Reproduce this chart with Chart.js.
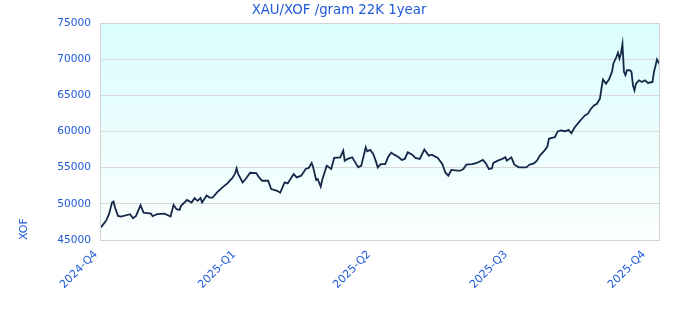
<!DOCTYPE html>
<html>
<head>
<meta charset="utf-8">
<script src="https://cdn.jsdelivr.net/npm/chart.js@4"></script>
<style>
  html, body { margin: 0; padding: 0; background: #fff; }
  #wrap { width: 680px; height: 320px; }
</style>
</head>
<body>
<div id="wrap"><canvas id="myChart" width="680" height="320"></canvas></div>
<script>
// days since 2024-10-01, and XAU/XOF per gram 22K
const days = [0, 1, 4, 6, 8, 9, 10, 12, 14, 20, 22, 24, 27, 29, 34, 35, 38, 43, 47, 49, 51, 53, 54, 58, 61, 63, 65, 67, 68, 71, 73, 75, 78, 81, 85, 87, 88, 90, 91, 92, 95, 97, 100, 104, 106, 108, 112, 114, 118, 120, 123, 125, 129, 131, 134, 137, 139, 141, 142, 144, 145, 147, 148, 151, 154, 156, 160, 162, 163, 165, 168, 172, 174, 177, 178, 180, 182, 184, 185, 187, 190, 192, 194, 196, 199, 201, 203, 205, 208, 210, 213, 216, 219, 221, 225, 228, 230, 232, 234, 238, 240, 242, 244, 248, 251, 255, 257, 259, 261, 262, 265, 268, 270, 271, 274, 276, 279, 284, 286, 289, 291, 293, 296, 298, 299, 301, 303, 304, 305, 307, 310, 312, 314, 316, 319, 321, 323, 325, 327, 329, 331, 333, 334, 335, 337, 339, 341, 342, 344, 345, 346, 347, 348, 349, 350, 351, 353, 354, 355, 356, 357, 359, 361, 363, 365, 368, 369, 371, 373];
const prices = [46900, 46844, 47640, 48570, 50180, 50320, 49490, 48330, 48240, 48570, 48010, 48330, 49820, 48790, 48650, 48290, 48570, 48650, 48240, 49860, 49260, 49160, 49720, 50550, 50180, 50790, 50410, 50790, 50180, 51150, 50870, 50870, 51570, 52180, 52870, 53330, 53510, 54210, 54900, 54120, 52960, 53430, 54300, 54260, 53650, 53190, 53190, 52040, 51800, 51530, 52960, 52820, 54120, 53650, 53890, 54820, 54960, 55650, 55040, 53290, 53430, 52360, 53290, 55280, 54820, 56350, 56430, 57360, 55960, 56210, 56430, 55040, 55280, 57820, 57260, 57460, 56900, 55730, 55040, 55500, 55500, 56530, 57080, 56800, 56430, 56070, 56210, 57120, 56800, 56350, 56210, 57500, 56660, 56800, 56350, 55500, 54340, 53890, 54680, 54580, 54580, 54820, 55410, 55500, 55650, 56070, 55600, 54820, 54900, 55650, 55970, 56210, 56430, 55970, 56430, 55410, 55040, 55040, 55410, 55600, 55970, 56660, 57360, 57920, 58990, 59120, 59210, 59680, 60040, 60140, 60040, 60230, 59760, 60510, 61290, 61760, 62220, 62460, 63150, 63610, 63840, 64540, 65930, 67180, 66620, 67180, 68240, 69400, 70330, 70880, 70100, 70790, 72080, 68240, 67780, 68470, 68470, 68240, 66390, 65690, 66620, 67080, 66850, 67080, 66710, 66850, 68240, 69960, 69170];

const tickDays = [0, 92, 182, 273, 365];
const tickLabels = ['2024-Q4', '2025-Q1', '2025-Q2', '2025-Q3', '2025-Q4'];
const titleText = 'XAU/XOF /gram 22K 1year';

const blue = '#1f5ad8';

const plotBox = {
    id: 'plotBox',
    beforeDraw(chart) {
        const a = chart.chartArea;
        const c = chart.ctx;
        const g = c.createLinearGradient(0, a.top, 0, a.bottom);
        g.addColorStop(0, '#dafdfe');
        g.addColorStop(1, '#fbfefe');
        c.save();
        c.fillStyle = g;
        c.fillRect(a.left, a.top, a.right - a.left, a.bottom - a.top);
        c.restore();
    },
    afterDraw(chart) {
        const a = chart.chartArea;
        const c = chart.ctx;
        c.save();
        c.strokeStyle = '#d4d4d4';
        c.lineWidth = 1;
        c.strokeRect(a.left + 0.5, a.top + 0.5, a.right - a.left - 1, a.bottom - a.top);
        // title
        c.fillStyle = blue;
        c.font = '13.3px "DejaVu Sans"';
        c.textAlign = 'center';
        c.textBaseline = 'middle';
        c.fillText(titleText, 339, 11);
        c.restore();
    }
};

const ctx = document.getElementById('myChart').getContext('2d');
const myChart = new Chart(ctx, {
    type: 'line',
    data: {
        datasets: [{
            label: 'XAU/XOF',
            data: days.map((d, i) => ({ x: d, y: prices[i] })),
            borderColor: '#152848',
            borderWidth: 1.8,
            pointRadius: 0,
            tension: 0,
            fill: false
        }]
    },
    options: {
        responsive: false,
        animation: false,
        layout: { padding: { left: 0, right: 20, top: 23, bottom: 0 } },
        plugins: {
            legend: { display: false },
            tooltip: { enabled: false },
            title: { display: false }
        },
        scales: {
            x: {
                type: 'linear',
                min: 0,
                max: 373,
                afterBuildTicks: function(scale) {
                    scale.ticks = tickDays.map(v => ({ value: v }));
                },
                afterFit: function(scale) { scale.height = 80; },
                grid: { display: false },
                border: { display: false },
                ticks: {
                    color: blue,
                    font: { family: 'DejaVu Sans', size: 11 },
                    minRotation: 45,
                    maxRotation: 45,
                    autoSkip: false,
                    padding: 0,
                    labelOffset: -4,
                    callback: function(value) {
                        const i = tickDays.indexOf(value);
                        return i >= 0 ? tickLabels[i] : '';
                    }
                }
            },
            y: {
                min: 45000,
                max: 75000,
                afterFit: function(scale) { scale.width = 100; },
                grid: { color: '#d8d8d8', drawTicks: false },
                border: { display: false },
                ticks: {
                    stepSize: 5000,
                    color: blue,
                    font: { family: 'DejaVu Sans', size: 10.6 },
                    padding: 9,
                    callback: function(value) { return String(value); }
                },
                title: {
                    display: true,
                    text: 'XOF',
                    align: 'start',
                    color: blue,
                    font: { family: 'DejaVu Sans', size: 11 },
                    padding: { top: 18, bottom: 0 }
                }
            }
        }
    },
    plugins: [plotBox]
});
</script>
</body>
</html>
